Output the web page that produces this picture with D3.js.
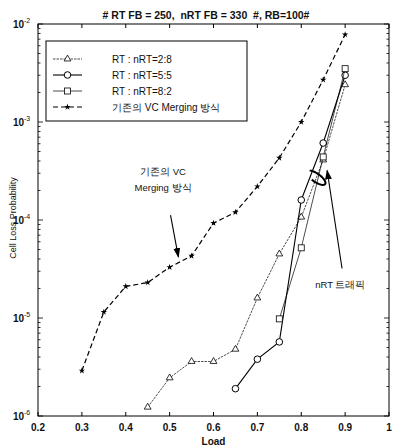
<!DOCTYPE html>
<html>
<head>
<meta charset="utf-8">
<script src="https://cdn.jsdelivr.net/npm/d3@7"></script>
<style>
  body { margin: 0; background: #fff; }
  text { font-family: "Liberation Sans", Arial, sans-serif; fill: #111; white-space: pre; }
</style>
</head>
<body>
<svg id="clp" width="393" height="448"></svg>
<script>
// values
var titleText = "# RT FB = 250,  nRT FB = 330  #, RB=100#";

var xTicks = [0.2, 0.3, 0.4, 0.5, 0.6, 0.7, 0.8, 0.9, 1.0];
var xTickLabels = ["0.2", "0.3", "0.4", "0.5", "0.6", "0.7", "0.8", "0.9", "1"];
var yMajor = [1e-2, 1e-3, 1e-4, 1e-5, 1e-6];
var yExpLabels = ["-2", "-3", "-4", "-5", "-6"];

var vcLoad = [0.3, 0.35, 0.4, 0.45, 0.5, 0.55, 0.6, 0.65, 0.7, 0.75, 0.8, 0.85, 0.9];
var vcClp  = [2.9e-6, 1.15e-5, 2.1e-5, 2.3e-5, 3.3e-5, 4.3e-5, 9.3e-5, 1.2e-4, 2.2e-4, 4.3e-4, 1.0e-3, 2.7e-3, 7.8e-3];

var rt28Load = [0.45, 0.5, 0.55, 0.6, 0.65, 0.7, 0.75, 0.8, 0.85, 0.9];
var rt28Clp  = [1.23e-6, 2.45e-6, 3.6e-6, 3.6e-6, 4.8e-6, 1.6e-5, 4.5e-5, 1.07e-4, 4.1e-4, 2.4e-3];

var rt55Load = [0.65, 0.7, 0.75, 0.8, 0.85, 0.9];
var rt55Clp  = [1.9e-6, 3.8e-6, 5.7e-6, 1.6e-4, 6.1e-4, 3.0e-3];

var rt82Load = [0.75, 0.8, 0.85, 0.9];
var rt82Clp  = [9.8e-6, 5.2e-5, 4.4e-4, 3.5e-3];

var legendLabels = ["RT : nRT=2:8", "RT : nRT=5:5", "RT : nRT=8:2", "기존의 VC Merging 방식"];

var svg = d3.select("#clp");
var margin = {left: 38, right: 4, top: 24, bottom: 32};
var W = +svg.attr("width"), H = +svg.attr("height");

var x = d3.scaleLinear().domain([0.2, 1.0]).range([margin.left, W - margin.right]);
var y = d3.scaleLog().domain([1e-6, 1e-2]).range([H - margin.bottom, margin.top]);

function zip(a, b) { return a.map(function(v, i) { return [v, b[i]]; }); }

var series = [
  {key: "rt28", data: zip(rt28Load, rt28Clp), marker: "tri",  width: 0.7, dash: "2.5,1"},
  {key: "rt55", data: zip(rt55Load, rt55Clp), marker: "circ", width: 1.1, dash: null},
  {key: "rt82", data: zip(rt82Load, rt82Clp), marker: "sq",   width: 0.7, dash: null},
  {key: "vc",   data: zip(vcLoad, vcClp),     marker: "star", width: 1.2, dash: "5,3"}
];

// frame
svg.append("rect")
  .attr("x", x(0.2)).attr("y", y(1e-2))
  .attr("width", x(1.0) - x(0.2)).attr("height", y(1e-6) - y(1e-2))
  .attr("fill", "none").attr("stroke", "#000").attr("stroke-width", 1);

// x ticks, bottom and top, inward
var xt = svg.append("g");
xTicks.forEach(function(t, i) {
  xt.append("line").attr("x1", x(t)).attr("x2", x(t))
    .attr("y1", y(1e-6)).attr("y2", y(1e-6) - 4).attr("stroke", "#000");
  xt.append("line").attr("x1", x(t)).attr("x2", x(t))
    .attr("y1", y(1e-2)).attr("y2", y(1e-2) + 4).attr("stroke", "#000");
  xt.append("text").attr("x", x(t)).attr("y", y(1e-6) + 15)
    .attr("text-anchor", "middle").attr("font-size", "10px").attr("font-weight", "bold")
    .text(xTickLabels[i]);
});

// y ticks (log, with minors)
var yt = svg.append("g");
y.ticks().forEach(function(t) {
  var major = yMajor.some(function(m) { return Math.abs(m - t) / m < 1e-6; });
  var len = major ? 5 : 2.5;
  yt.append("line").attr("x1", x(0.2)).attr("x2", x(0.2) + len)
    .attr("y1", y(t)).attr("y2", y(t)).attr("stroke", "#000").attr("stroke-width", 0.8);
  yt.append("line").attr("x1", x(1.0)).attr("x2", x(1.0) - len)
    .attr("y1", y(t)).attr("y2", y(t)).attr("stroke", "#000").attr("stroke-width", 0.8);
});
yMajor.forEach(function(m, i) {
  yt.append("text").attr("x", x(0.2) - 14).attr("y", y(m) + 4)
    .attr("text-anchor", "end").attr("font-size", "10px").attr("font-weight", "bold").text("10");
  yt.append("text").attr("x", x(0.2) - 14).attr("y", y(m) - 1)
    .attr("text-anchor", "start").attr("font-size", "7px").text(yExpLabels[i]);
});

// title and axis labels
svg.append("text").attr("x", 206).attr("y", 19).attr("text-anchor", "middle")
  .attr("font-size", "10.5px").attr("font-weight", "bold").text(titleText);
svg.append("text").attr("x", (x(0.2) + x(1.0)) / 2).attr("y", 445).attr("text-anchor", "middle")
  .attr("font-size", "10px").attr("font-weight", "bold").text("Load");
svg.append("text").attr("transform", "translate(16,218) rotate(-90)").attr("text-anchor", "middle")
  .attr("font-size", "9px").text("Cell Loss Probability");

// marker drawing
function drawMarker(g, kind, cx, cy) {
  if (kind === "tri") {
    g.append("path").attr("d", d3.symbol(d3.symbolTriangle, 20)())
      .attr("transform", "translate(" + cx + "," + cy + ")")
      .attr("fill", "#fff").attr("stroke", "#000").attr("stroke-width", 0.8);
  } else if (kind === "circ") {
    g.append("circle").attr("cx", cx).attr("cy", cy).attr("r", 3.3)
      .attr("fill", "#fff").attr("stroke", "#000").attr("stroke-width", 1);
  } else if (kind === "sq") {
    g.append("rect").attr("x", cx - 3).attr("y", cy - 3).attr("width", 6).attr("height", 6)
      .attr("fill", "#fff").attr("stroke", "#000").attr("stroke-width", 0.8);
  } else {
    g.append("path").attr("d", d3.symbol(d3.symbolStar, 13)())
      .attr("transform", "translate(" + cx + "," + cy + ")").attr("fill", "#000");
  }
}

var line = d3.line().x(function(d) { return x(d[0]); }).y(function(d) { return y(d[1]); });

series.forEach(function(s) {
  var g = svg.append("g").attr("class", s.key + "_line");
  g.append("path").datum(s.data).attr("d", line)
    .attr("fill", "none").attr("stroke", "#000").attr("stroke-width", s.width)
    .attr("stroke-dasharray", s.dash);
  s.data.forEach(function(d) { drawMarker(g, s.marker, x(d[0]), y(d[1])); });
});

// legend
var lg = svg.append("g");
lg.append("rect").attr("x", 46).attr("y", 41).attr("width", 201).attr("height", 80)
  .attr("fill", "#fff").attr("stroke", "#000").attr("stroke-width", 1);
series.forEach(function(s, i) {
  var ly = 59 + i * 16;
  lg.append("line").attr("x1", 53).attr("x2", 82).attr("y1", ly).attr("y2", ly)
    .attr("stroke", "#000").attr("stroke-width", s.width).attr("stroke-dasharray", s.dash);
  drawMarker(lg, s.marker, 67.5, ly);
  lg.append("text").attr("x", 112).attr("y", ly + 3.5).attr("font-size", "10px")
    .text(legendLabels[i]);
});

// annotations
var ann = svg.append("g");
ann.append("defs").append("marker").attr("id", "ah")
  .attr("viewBox", "0 0 10 10").attr("refX", 9).attr("refY", 5)
  .attr("markerWidth", 9).attr("markerHeight", 9).attr("orient", "auto")
  .append("path").attr("d", "M0,1.5 L10,5 L0,8.5 Z").attr("fill", "#000");

ann.append("text").attr("x", x(0.485)).attr("y", y(2.9e-4)).attr("text-anchor", "middle")
  .attr("font-size", "9.5px").text("기존의 VC");
ann.append("text").attr("x", x(0.485)).attr("y", y(2.9e-4) + 16).attr("text-anchor", "middle")
  .attr("font-size", "9.5px").text("Merging 방식");
ann.append("line").attr("x1", x(0.502)).attr("y1", y(1.12e-4))
  .attr("x2", x(0.52)).attr("y2", y(4.2e-5))
  .attr("stroke", "#000").attr("stroke-width", 1.1).attr("marker-end", "url(#ah)");

ann.append("text").attr("x", x(0.889)).attr("y", y(2.0e-5)).attr("text-anchor", "middle")
  .attr("font-size", "9.5px").text("nRT 트래픽");
ann.append("line").attr("x1", x(0.893)).attr("y1", y(3.2e-5))
  .attr("x2", x(0.859)).attr("y2", y(3.2e-4))
  .attr("stroke", "#000").attr("stroke-width", 1.1).attr("marker-end", "url(#ah)");

// ring around the nRT lines
var ex = x(0.834), ey = y(2.7e-4);
var ring = d3.path();
var rx = 11, ry = 4.2, rot = 35 * Math.PI / 180;
for (var k = 0; k <= 40; k++) {
  var a = -2.6 + k * (4.4 / 40);
  var px = rx * Math.cos(a), py = ry * Math.sin(a);
  var qx = ex + px * Math.cos(rot) - py * Math.sin(rot);
  var qy = ey + px * Math.sin(rot) + py * Math.cos(rot);
  if (k === 0) ring.moveTo(qx, qy); else ring.lineTo(qx, qy);
}
ann.append("path").attr("d", ring.toString()).attr("fill", "none")
  .attr("stroke", "#000").attr("stroke-width", 2);
</script>
</body>
</html>
